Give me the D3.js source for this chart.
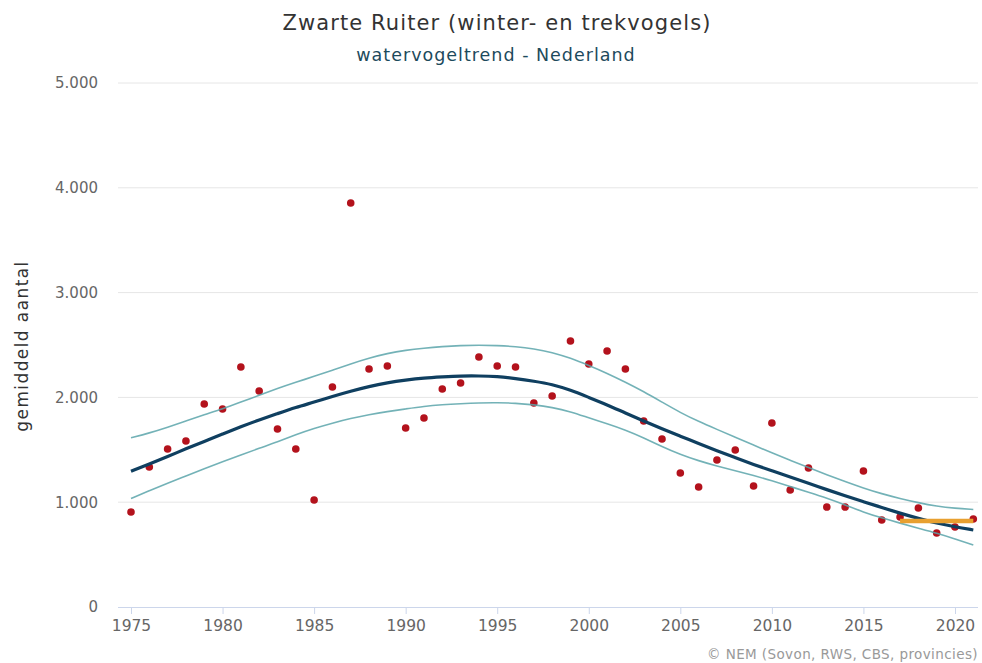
<!DOCTYPE html>
<html>
<head>
<meta charset="utf-8">
<script src="https://cdn.jsdelivr.net/npm/d3@7"></script>
<style>
  body { margin: 0; background: #fff; }
  svg { font-family: "DejaVu Sans", Verdana, sans-serif; }
</style>
</head>
<body>
<div id="chart-area"></div>
<script>
// jaren en tellingen
const years = d3.range(1975, 2022);

const counts = [906, 1336, 1508, 1584, 1937, 1889, 2290, 2061, 1698, 1508,
  1021, 2099, 3855, 2271, 2300, 1708, 1803, 2080, 2137, 2385,
  2300, 2290, 1947, 2013, 2538, 2319, 2443, 2271, 1775, 1603,
  1279, 1145, 1403, 1498, 1155, 1756, 1116, 1326, 954, 954,
  1298, 830, 859, 945, 706, 763, 840];

const trend = [1295, 1365, 1435, 1510, 1580, 1650, 1720, 1785, 1845, 1905,
  1955, 2010, 2060, 2105, 2140, 2165, 2185, 2195, 2205, 2205,
  2200, 2180, 2155, 2125, 2070, 2000, 1930, 1850, 1775, 1700,
  1630, 1560, 1490, 1425, 1360, 1300, 1240, 1180, 1120, 1060,
  1005, 950, 895, 845, 800, 765, 735];

const upper = [1615, 1660, 1715, 1775, 1835, 1890, 1955, 2020, 2085, 2145,
  2200, 2260, 2320, 2375, 2420, 2450, 2470, 2485, 2495, 2500,
  2495, 2485, 2465, 2430, 2375, 2305, 2230, 2145, 2055, 1955,
  1855, 1770, 1695, 1620, 1545, 1470, 1400, 1330, 1262, 1197,
  1135, 1080, 1035, 995, 962, 942, 930];

const lower = [1035, 1110, 1180, 1250, 1320, 1385, 1450, 1515, 1575, 1645,
  1705, 1755, 1800, 1835, 1865, 1890, 1915, 1930, 1940, 1948,
  1950, 1945, 1930, 1905, 1865, 1805, 1750, 1690, 1615, 1530,
  1455, 1395, 1345, 1300, 1255, 1205, 1150, 1095, 1040, 975,
  905, 850, 800, 752, 705, 650, 592];

// laatste 5 jaar (oranje)
const recentYears = [2017, 2021];
const recentLevel = [820, 820];

const xTicks = [1975, 1980, 1985, 1990, 1995, 2000, 2005, 2010, 2015, 2020];
const yTicks = [0, 1000, 2000, 3000, 4000, 5000];

const width = 982, height = 663;

const svg = d3.select('#chart-area').append('svg')
  .attr('width', width)
  .attr('height', height);

const x = d3.scaleLinear().domain([1975, 2021]).range([131, 973.3]);
const y = d3.scaleLinear().domain([0, 5000]).range([607, 83]);

const fmt = v => d3.format(',')(v).replace(/,/g, '.');

// gridlines
svg.append('g')
  .selectAll('line')
  .data(yTicks.filter(d => d > 0))
  .enter()
  .append('line')
  .attr('x1', 118)
  .attr('x2', 978)
  .attr('y1', d => y(d))
  .attr('y2', d => y(d))
  .attr('stroke', '#e6e6e6')
  .attr('stroke-width', 1);

// y axis
const yAxis = svg.append('g')
  .attr('transform', 'translate(118,0)')
  .call(d3.axisLeft(y).tickValues(yTicks).tickSize(0).tickPadding(20).tickFormat(fmt));
yAxis.select('.domain').remove();
yAxis.selectAll('text')
  .attr('font-size', '15px')
  .attr('fill', '#666')
  .attr('font-family', '"DejaVu Sans", Verdana, sans-serif');

// x axis
const xAxis = svg.append('g')
  .attr('transform', 'translate(0,607)')
  .call(d3.axisBottom(x).tickValues(xTicks).tickSize(7).tickPadding(6).tickFormat(d3.format('d')));
xAxis.select('.domain')
  .attr('d', 'M118,0.5H978')
  .attr('stroke', '#ccd6eb');
xAxis.selectAll('line').attr('stroke', '#ccd6eb');
xAxis.selectAll('text')
  .attr('font-size', '15.5px')
  .attr('fill', '#666')
  .attr('font-family', '"DejaVu Sans", Verdana, sans-serif');

// punten
svg.append('g')
  .selectAll('circle')
  .data(counts)
  .enter()
  .append('circle')
  .attr('cx', (d, i) => x(years[i]))
  .attr('cy', d => y(d))
  .attr('r', 3.8)
  .attr('fill', '#b3121c');

const line = d3.line()
  .x((d, i) => x(years[i]))
  .y(d => y(d))
  .curve(d3.curveBasis);

// betrouwbaarheidsband
[upper, lower].forEach(series => {
  svg.append('path')
    .datum(series)
    .attr('d', line)
    .attr('fill', 'none')
    .attr('stroke', '#5aa5aa')
    .attr('stroke-opacity', 0.85)
    .attr('stroke-width', 1.6);
});

// trendlijn
svg.append('path')
  .datum(trend)
  .attr('d', line)
  .attr('fill', 'none')
  .attr('stroke', '#0f3f60')
  .attr('stroke-width', 3.2);

// oranje segment
svg.append('path')
  .datum(recentLevel)
  .attr('d', d3.line().x((d, i) => x(recentYears[i])).y(d => y(d)))
  .attr('fill', 'none')
  .attr('stroke', '#e8a030')
  .attr('stroke-width', 4.5);

// titels
svg.append('text')
  .attr('x', 497)
  .attr('y', 30)
  .attr('text-anchor', 'middle')
  .attr('font-size', '21px')
  .attr('letter-spacing', '1.1px')
  .attr('fill', '#333')
  .text('Zwarte Ruiter (winter- en trekvogels)');

svg.append('text')
  .attr('x', 496)
  .attr('y', 61)
  .attr('text-anchor', 'middle')
  .attr('font-size', '17.5px')
  .attr('letter-spacing', '1px')
  .attr('fill', '#1d4a5c')
  .text('watervogeltrend - Nederland');

svg.append('text')
  .attr('transform', 'translate(28,346) rotate(-90)')
  .attr('text-anchor', 'middle')
  .attr('font-size', '17px')
  .attr('letter-spacing', '1.4px')
  .attr('fill', '#333')
  .text('gemiddeld aantal');

svg.append('text')
  .attr('x', 978)
  .attr('y', 659)
  .attr('text-anchor', 'end')
  .attr('font-size', '13.5px')
  .attr('letter-spacing', '0.4px')
  .attr('fill', '#999')
  .text('© NEM (Sovon, RWS, CBS, provincies)');
</script>
</body>
</html>
